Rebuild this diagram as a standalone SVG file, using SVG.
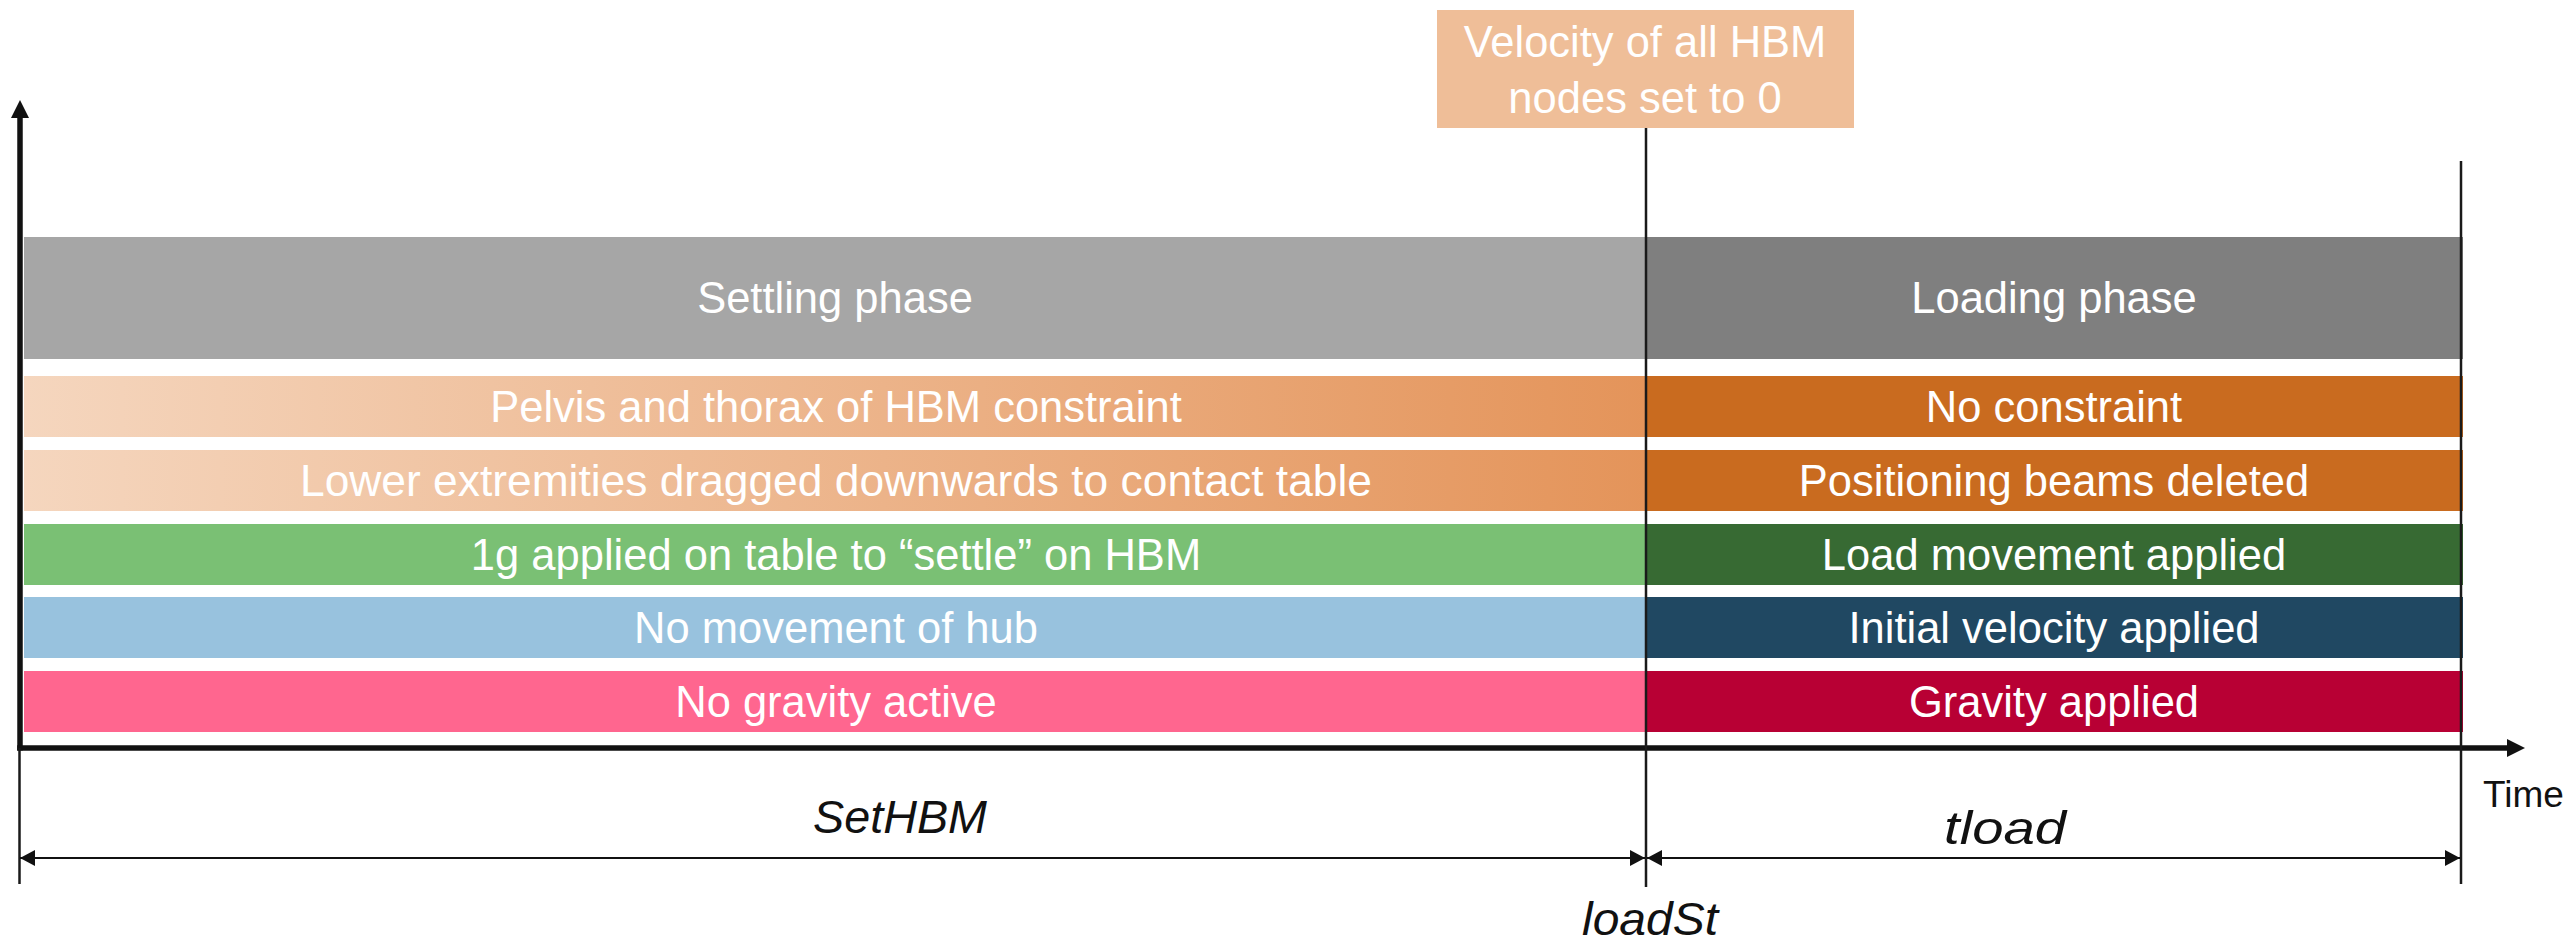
<svg xmlns="http://www.w3.org/2000/svg" width="2571" height="941" viewBox="0 0 2571 941">
  <defs>
    <linearGradient id="peach" gradientUnits="userSpaceOnUse" x1="24" y1="0" x2="1646" y2="0">
      <stop offset="0" stop-color="#F5D6BE"/>
      <stop offset="1" stop-color="#E4945A"/>
    </linearGradient>
    <marker id="axisArrow" viewBox="0 0 18 18" refX="0" refY="9" markerWidth="18" markerHeight="18" markerUnits="userSpaceOnUse" orient="auto">
      <path d="M0,0 L18,9 L0,18 z" fill="#111"/>
    </marker>
    <marker id="dimArrow" viewBox="0 0 15 16" refX="15" refY="8" markerWidth="15" markerHeight="16" markerUnits="userSpaceOnUse" orient="auto-start-reverse">
      <path d="M0,0 L15,8 L0,16 z" fill="#111"/>
    </marker>
  </defs>
  <style>
    text { font-family: "Liberation Sans", Arial, sans-serif; }
    .bar-label { fill: #FFFFFF; font-size: 43.5px; text-anchor: middle; }
    .dim-label { fill: #111111; font-size: 46px; font-style: italic; text-anchor: middle; }
    .axis { stroke: #111111; stroke-width: 5.5; fill: none; }
    .guide { stroke: #1a1a1a; stroke-width: 2.5; fill: none; }
    .dim { stroke: #111111; stroke-width: 2.2; fill: none; marker-start: url(#dimArrow); marker-end: url(#dimArrow); }
  </style>
  <rect width="2571" height="941" fill="#FFFFFF"/>

  <!-- Phase bars -->
  <g id="settling-phase">
    <rect x="24" y="237" width="1622" height="122" fill="#A6A6A6"/>
    <text class="bar-label" x="835" y="313" font-size="43">Settling phase</text>
  </g>
  <g id="loading-phase">
    <rect x="1646" y="237" width="817" height="122" fill="#7F7F7F"/>
    <text class="bar-label" x="2054" y="313" font-size="43">Loading phase</text>
  </g>

  <!-- Row 1 -->
  <g id="settle-constraint">
    <rect x="24" y="376" width="1622" height="61" fill="url(#peach)"/>
    <text class="bar-label" x="836" y="422">Pelvis and thorax of HBM constraint</text>
  </g>
  <g id="load-constraint">
    <rect x="1646" y="376" width="817" height="61" fill="#C96B1F"/>
    <text class="bar-label" x="2054" y="422">No constraint</text>
  </g>

  <!-- Row 2 -->
  <g id="settle-extremities">
    <rect x="24" y="450" width="1622" height="61" fill="url(#peach)"/>
    <text class="bar-label" x="836" y="496" textLength="1072" lengthAdjust="spacingAndGlyphs">Lower extremities dragged downwards to contact table</text>
  </g>
  <g id="load-beams">
    <rect x="1646" y="450" width="817" height="61" fill="#C96B1F"/>
    <text class="bar-label" x="2054" y="496">Positioning beams deleted</text>
  </g>

  <!-- Row 3 -->
  <g id="settle-table">
    <rect x="24" y="524" width="1622" height="61" fill="#7AC074"/>
    <text class="bar-label" x="836" y="570">1g applied on table to “settle” on HBM</text>
  </g>
  <g id="load-movement">
    <rect x="1646" y="524" width="817" height="61" fill="#376A33"/>
    <text class="bar-label" x="2054" y="570">Load movement applied</text>
  </g>

  <!-- Row 4 -->
  <g id="settle-hub">
    <rect x="24" y="597" width="1622" height="61" fill="#98C2DE"/>
    <text class="bar-label" x="836" y="643">No movement of hub</text>
  </g>
  <g id="load-velocity">
    <rect x="1646" y="597" width="817" height="61" fill="#204862"/>
    <text class="bar-label" x="2054" y="643">Initial velocity applied</text>
  </g>

  <!-- Row 5 -->
  <g id="settle-gravity">
    <rect x="24" y="671" width="1622" height="61" fill="#FF668F"/>
    <text class="bar-label" x="836" y="717">No gravity active</text>
  </g>
  <g id="load-gravity">
    <rect x="1646" y="671" width="817" height="61" fill="#B80034"/>
    <text class="bar-label" x="2054" y="717">Gravity applied</text>
  </g>

  <!-- Velocity note -->
  <g id="velocity-note">
    <rect x="1437" y="10" width="417" height="118" fill="#EFBE98"/>
    <text class="bar-label" x="1645" y="57">Velocity of all HBM</text>
    <text class="bar-label" x="1645" y="113">nodes set to 0</text>
  </g>

  <!-- Labels -->
  <g id="label-time">
    <text x="2483" y="807" font-size="37" fill="#111111">Time</text>
  </g>
  <g id="label-sethbm">
    <text class="dim-label" x="900" y="833" textLength="174" lengthAdjust="spacingAndGlyphs">SetHBM</text>
  </g>
  <g id="label-tload">
    <text class="dim-label" x="2005" y="844" font-size="50" textLength="122" lengthAdjust="spacingAndGlyphs">tload</text>
  </g>
  <g id="label-loadst">
    <text class="dim-label" x="1650" y="935" textLength="136" lengthAdjust="spacingAndGlyphs">loadSt</text>
  </g>

  <!-- Connectors: axes, guide lines, dimension arrows -->
  <g id="connectors">
    <line class="axis" x1="20" y1="750.5" x2="20" y2="118" marker-end="url(#axisArrow)"/>
    <line class="axis" x1="17.2" y1="748" x2="2507" y2="748" marker-end="url(#axisArrow)"/>
    <line class="guide" x1="19.5" y1="748" x2="19.5" y2="884"/>
    <line class="guide" x1="1646" y1="128" x2="1646" y2="887"/>
    <line class="guide" x1="2461" y1="161" x2="2461" y2="884"/>
    <line class="dim" x1="20" y1="858" x2="1645" y2="858"/>
    <line class="dim" x1="1647" y1="858" x2="2460" y2="858"/>
  </g>
</svg>
